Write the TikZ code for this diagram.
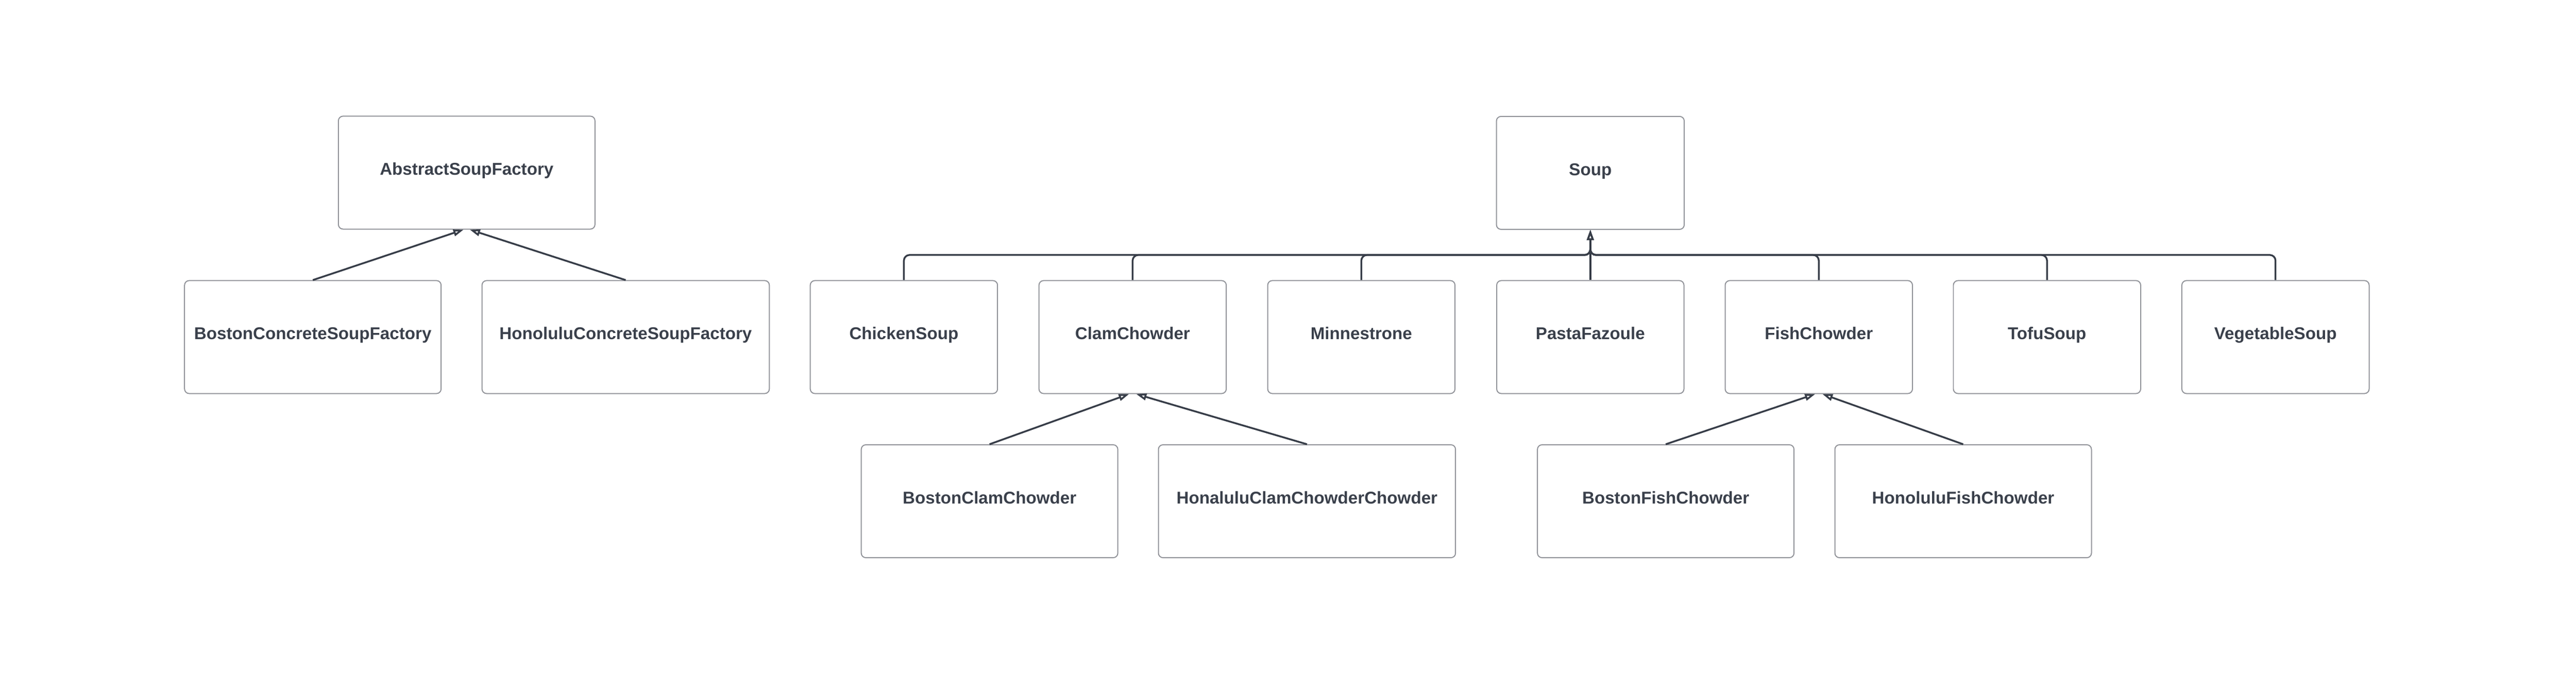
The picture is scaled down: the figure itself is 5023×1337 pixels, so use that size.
\documentclass[tikz,border=0pt]{standalone}
\usepackage{fontspec}
\setmainfont{Liberation Sans}
\usetikzlibrary{arrows.meta}
\definecolor{txt}{RGB}{58,64,75}
\definecolor{edge}{RGB}{145,147,153}
\definecolor{conn}{RGB}{55,61,72}
\tikzset{
  box/.style={draw=edge, line width=0.02cm, rounded corners=0.09cm, fill=white,
    minimum height=2.2cm, inner sep=0pt, text=txt, text height=7pt, text depth=4.4pt,
    font=\fontsize{9.47pt}{11pt}\selectfont\bfseries},
  gen/.style={draw=conn, line width=0.035cm,
    -{Triangle[open, length=0.2cm, width=0.13cm, fill=white]}},
  bus/.style={gen, rounded corners=0.11cm}
}
\begin{document}
\begin{tikzpicture}[x=0.01cm, y=-0.01cm]
\useasboundingbox (0,0) rectangle (5023,1337);
% factories
\node[box, minimum width=5.00cm] (abs) at (910,336.5) {AbstractSoupFactory};
\node[box, minimum width=5.00cm] (bcsf) at (610,657) {BostonConcreteSoupFactory};
\node[box, minimum width=5.60cm] (hcsf) at (1220,657) {HonoluluConcreteSoupFactory};
% soups
\node[box, minimum width=3.66cm] (soup) at (3101,337) {Soup};
\node[box, minimum width=3.65cm] (chicken) at (1762.5,657) {ChickenSoup};
\node[box, minimum width=3.65cm] (clam) at (2208.5,657) {ClamChowder};
\node[box, minimum width=3.65cm] (minn) at (2654.5,657) {Minnestrone};
\node[box, minimum width=3.65cm] (pasta) at (3101,657) {PastaFazoule};
\node[box, minimum width=3.65cm] (fish) at (3546.5,657) {FishChowder};
\node[box, minimum width=3.65cm] (tofu) at (3991.5,657) {TofuSoup};
\node[box, minimum width=3.65cm] (veg) at (4437,657) {VegetableSoup};
% third row
\node[box, minimum width=5.00cm] (bclam) at (1929.5,977) {BostonClamChowder};
\node[box, minimum width=5.79cm] (hclam) at (2548.5,977) {HonaluluClamChowderChowder};
\node[box, minimum width=5.00cm] (bfish) at (3248,977) {BostonFishChowder};
\node[box, minimum width=5.00cm] (hfish) at (3828,977) {HonoluluFishChowder};
% connectors
\draw[gen] (bcsf.north) -- ([xshift=-0.06cm]abs.south);
\draw[gen] (hcsf.north) -- ([xshift=0.06cm]abs.south);
\draw[gen] (bclam.north) -- ([xshift=-0.07cm]clam.south);
\draw[gen] (hclam.north) -- ([xshift=0.07cm]clam.south);
\draw[gen] (bfish.north) -- ([xshift=-0.07cm]fish.south);
\draw[gen] (hfish.north) -- ([xshift=0.07cm]fish.south);
\coordinate (junc) at (3101,497);
\draw[bus] (chicken.north) |- (junc) -- (soup.south);
\draw[bus] (clam.north) |- (junc) -- (soup.south);
\draw[bus] (minn.north) |- (junc) -- (soup.south);
\draw[bus] (fish.north) |- (junc) -- (soup.south);
\draw[bus] (tofu.north) |- (junc) -- (soup.south);
\draw[bus] (veg.north) |- (junc) -- (soup.south);
\draw[gen] (pasta.north) -- (soup.south);
\end{tikzpicture}
\end{document}
